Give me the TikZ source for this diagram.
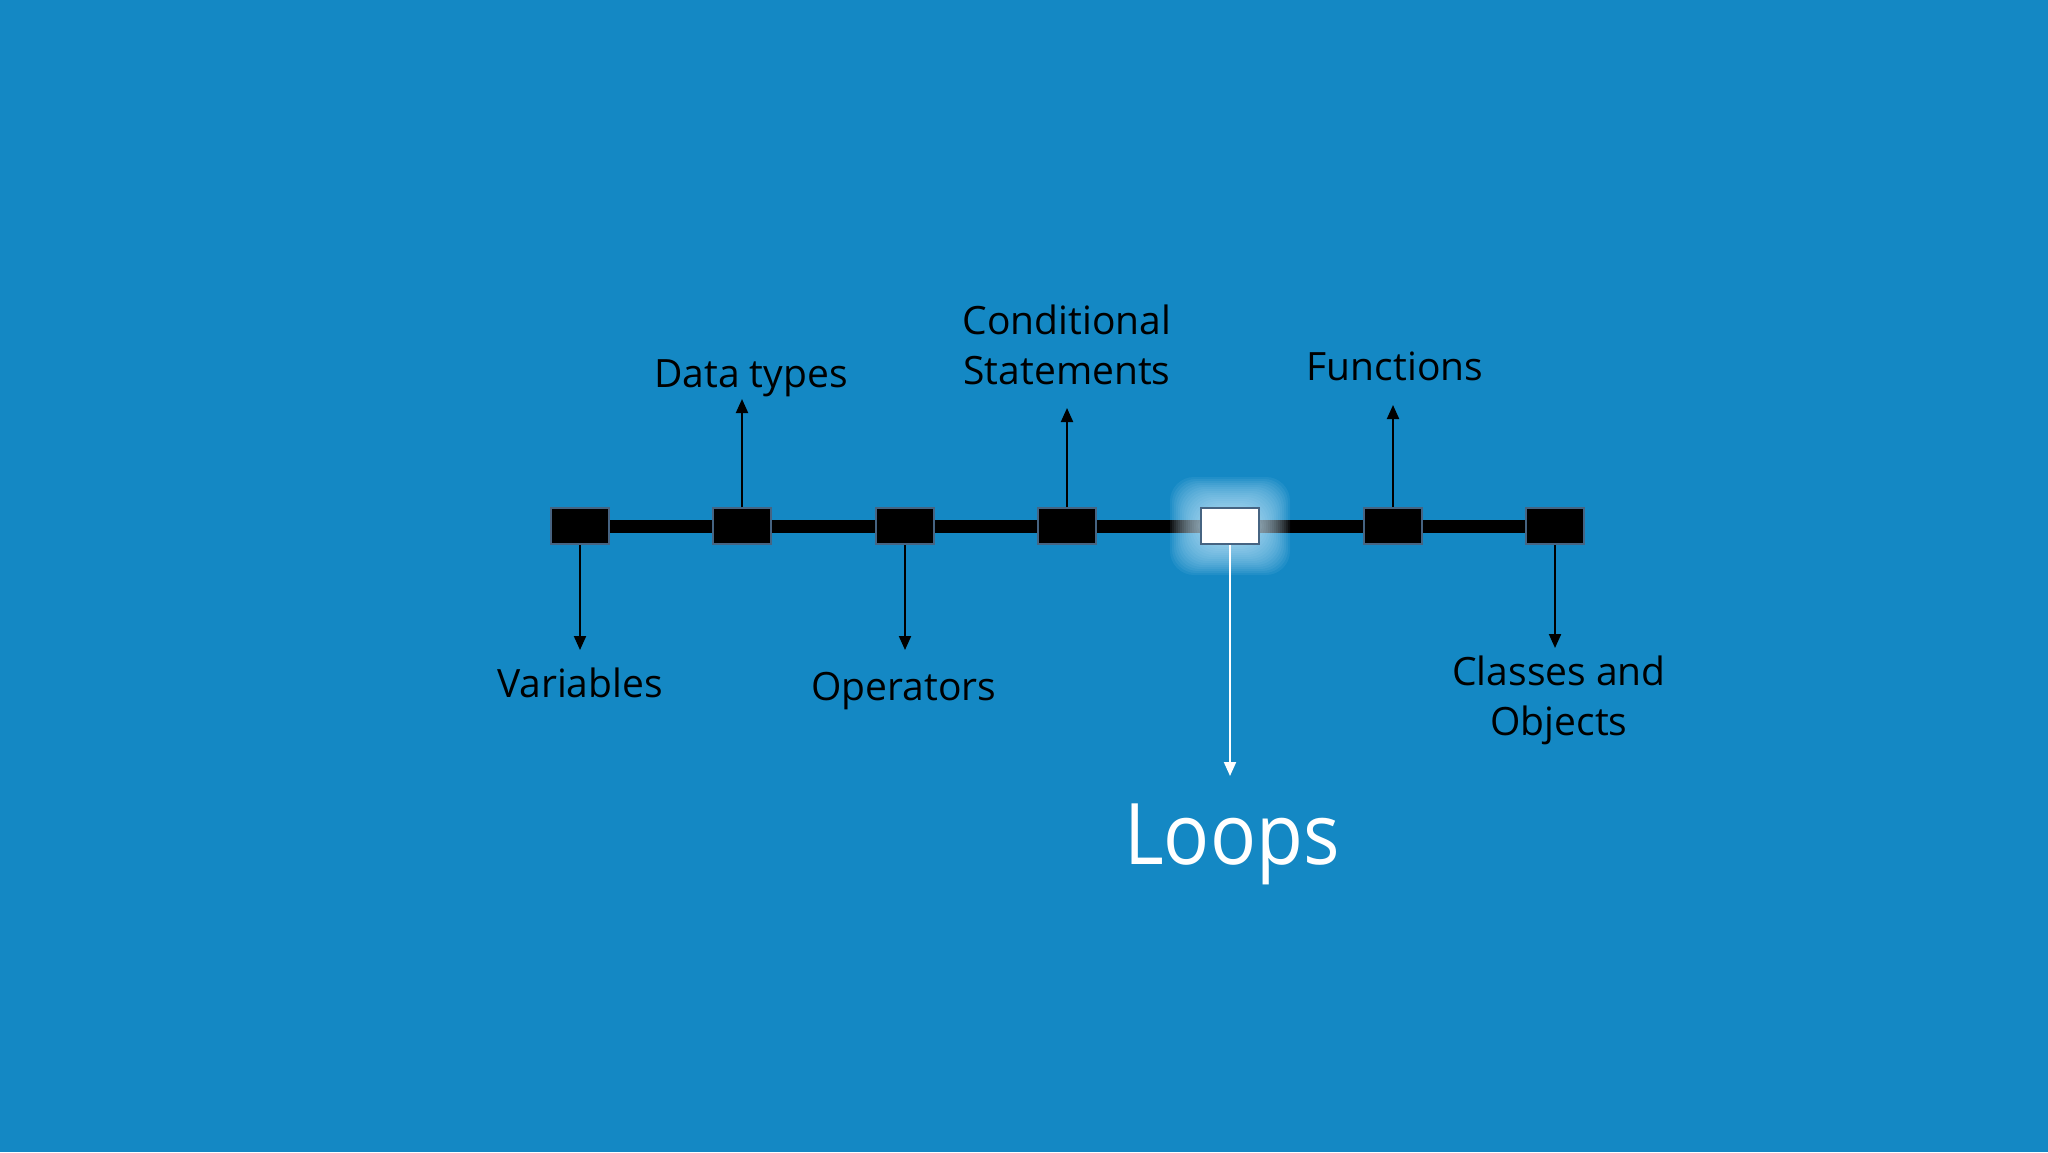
\documentclass[tikz,border=0pt]{standalone}
\usepackage{fontspec}
\setmainfont{Open Sans}
\newfontfamily\loopsfont{Open Sans}[FakeStretch=0.9]
\usetikzlibrary{arrows.meta,positioning,backgrounds}
\definecolor{slideblue}{RGB}{20,136,196}
\definecolor{boxedge}{RGB}{70,100,130}
\definecolor{glowc}{RGB}{205,238,255}
\begin{document}
\begin{tikzpicture}[x=0.5pt, y=-0.5pt, thick]

		\tikzstyle{stop}=[rectangle, draw=boxedge, line width=1pt, fill=black, minimum width=29pt, minimum height=18pt, inner sep=0pt]
		\tikzstyle{now}=[stop, fill=white]
		\tikzstyle{topic}=[anchor=base, inner sep=0pt, align=center, text=black, font=\fontsize{19.5pt}{24.75pt}\selectfont]
		\tikzstyle{link}=[-{Triangle[width=6pt,length=7pt]}, black, line width=1pt]
		\tikzstyle{track}=[black, line width=6.5pt]

		\useasboundingbox (0,0) rectangle (2048,1152);

		% Timeline stops
		\node[stop] (s1) at (580,526)  {};
		\node[stop] (s2) at (742,526)  {};
		\node[stop] (s3) at (905,526)  {};
		\node[stop] (s4) at (1067,526) {};
		\node[now]  (s5) at (1230,526) {};
		\node[stop] (s6) at (1393,526) {};
		\node[stop] (s7) at (1555,526) {};

		% Arrow ends
		\coordinate (e1) at (580,650);
		\coordinate (e2) at (742,399);
		\coordinate (e3) at (905,650);
		\coordinate (e4) at (1067,408);
		\coordinate (e5) at (1230,776);
		\coordinate (e6) at (1393,405);
		\coordinate (e7) at (1555,648);

		% Topics (base = last line)
		\node[topic] (var)  at (580,697)  {Variables};
		\node[topic] (dat)  at (751,387)  {Data types};
		\node[topic] (ops)  at (904,700)  {Operators};
		\node[topic] (cond) at (1067,384) {Conditional\\Statements};
		\node[topic] (fun)  at (1395,380) {Functions};
		\node[topic] (cls)  at (1559,735) {Classes and\\Objects};
		\node[topic, text=white, font=\loopsfont\fontsize{42.5pt}{50pt}\selectfont] (loops) at (1232,864) {Loops};

		\begin{scope}[on background layer]
		\fill[slideblue] (0,0) rectangle (2048,1152);
		\draw[track] (s1) -- (s2) -- (s3) -- (s4) -- (s5) -- (s6) -- (s7);
		% glow round the current stop
		\foreach \g in {30,28,...,2}
			\fill[glowc, opacity=0.07, rounded corners=12pt] ([shift={(-\g,\g)}]s5.south west) rectangle ([shift={(\g,-\g)}]s5.north east);
		\end{scope}

		% Links
		\draw[link] (s1.south) -- (e1);
		\draw[link] (s2.north) -- (e2);
		\draw[link] (s3.south) -- (e3);
		\draw[link] (s4.north) -- (e4);
		\draw[link, white] (s5.south) -- (e5);
		\draw[link] (s6.north) -- (e6);
		\draw[link] (s7.south) -- (e7);

\end{tikzpicture}
\end{document}
